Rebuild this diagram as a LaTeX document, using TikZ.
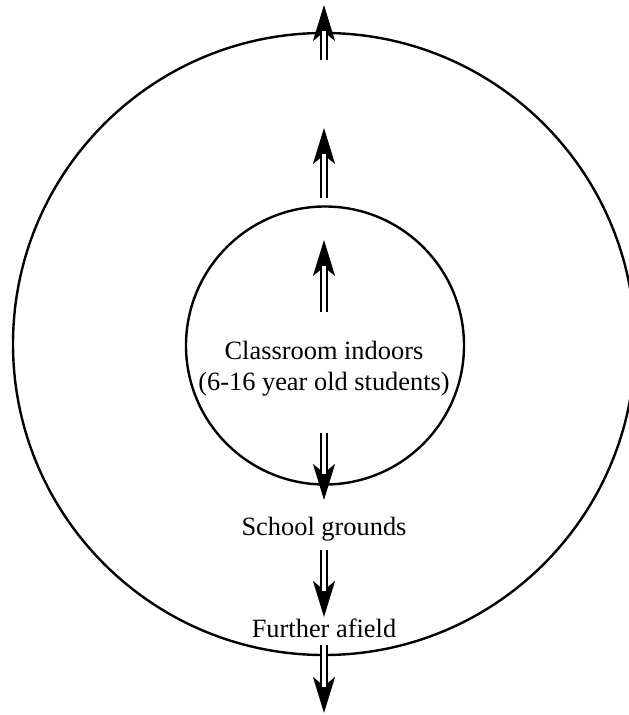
\documentclass[tikz,border=0pt]{standalone}
\usepackage{fontspec}
\setmainfont{Liberation Serif}
\usetikzlibrary{arrows.meta}
\tikzset{
  ring/.style={draw,circle,line width=1.2pt,inner sep=0pt},
  tip/.style={line width=1pt,-{Stealth[length=18pt,width=11pt,inset=4.5pt]}},
  shaft/.style={double,double distance=2pt,line width=1.1pt,shorten >=13pt},
  lbl/.style={font=\fontsize{13.2}{15.5}\selectfont,align=center,inner sep=0pt}
}
\begin{document}
\begin{tikzpicture}[x=0.5pt,y=-0.5pt]
	  \useasboundingbox (0,0) rectangle (628,715);
	  \node [ring,minimum size=311pt] at (324,344) (outer) {};
	  \node [ring,minimum size=139pt] at (325,345.5) (inner) {};
	  \node [lbl] at (324,369) (classroom) {Classroom indoors\\(6-16 year old students)};
	  \node [lbl,anchor=base] at (324,535) (grounds) {School grounds};
	  \node [lbl,anchor=base] at (324,637) (afield) {Further afield};
	  \foreach \i/\s/\e in {1/60/5, 2/198/128, 3/312/240, 4/433/500, 5/550/617, 6/645/713}{
	  	\coordinate (s\i) at (324,\s);
	  	\coordinate (e\i) at (324,\e);
	  	\draw [tip] (s\i) -- (e\i);
	  	\draw [shaft] (s\i) -- (e\i);
	  }
	\end{tikzpicture}
\end{document}
